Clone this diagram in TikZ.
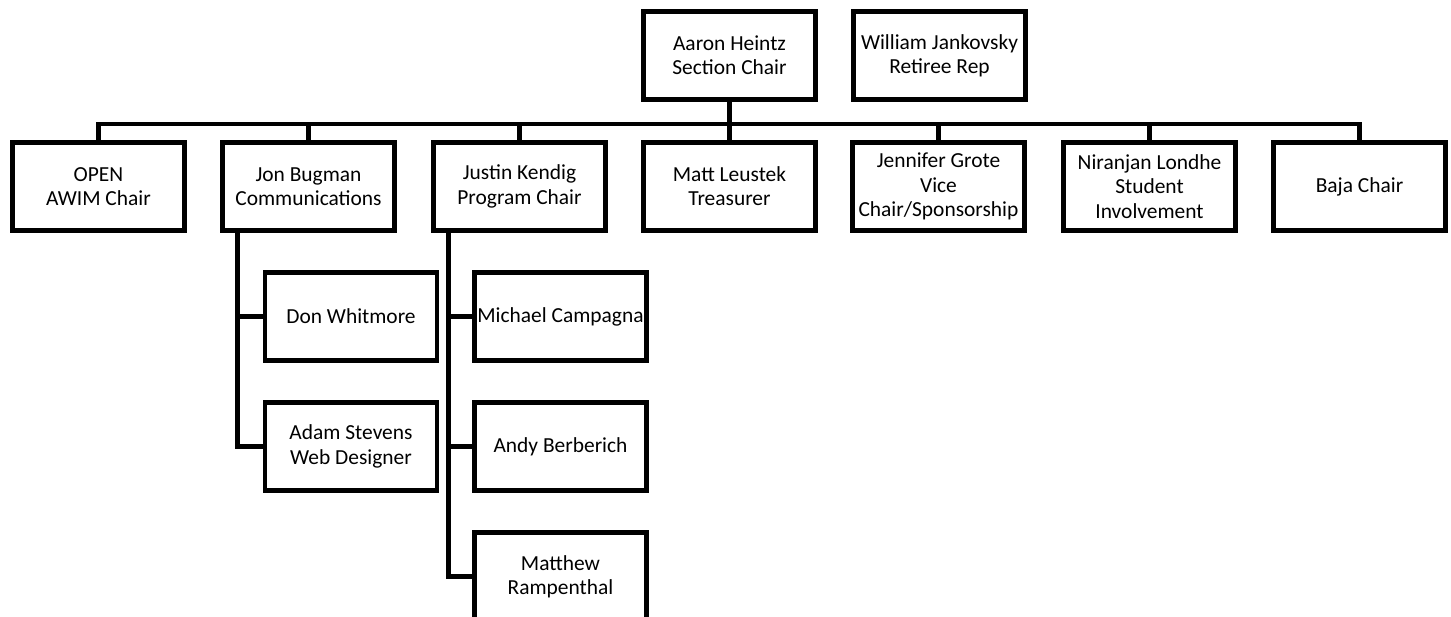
\documentclass[tikz,border=0pt]{standalone}
\usepackage{fontspec}
\setmainfont{Carlito}
\usetikzlibrary{positioning}

\begin{document}
\begin{tikzpicture}[
  x=0.02cm, y=-0.02cm,
  post/.style={
    rectangle, draw=black, fill=white, line width=2.8pt,
    minimum width=3.44cm, minimum height=1.76cm, inner sep=1pt,
    font=\fontsize{12.2}{13.8}\selectfont, align=center
  },
  link/.style={draw=black, line width=2.8pt},
]

\useasboundingbox (0,0) rectangle (1451,617);
\clip (0,0) rectangle (1451,617);

\def\colA{98.5}
\def\colB{308.5}
\def\colC{519.5}
\def\colD{729.5}
\def\colE{938.5}
\def\colF{1149.5}
\def\colG{1359.5}
\def\colSa{351}
\def\colSb{560.5}

\def\rowT{55.5}
\def\rowA{186.5}
\def\rowB{316.5}
\def\rowC{446.5}
\def\rowD{576.5}

% top
\node[post] (aaron)   at (\colD, \rowT)  {Aaron Heintz\\Section Chair};
\node[post] (william) at (939.5, \rowT)  {William Jankovsky\\Retiree Rep};

% committee
\node[post] (open)     at (\colA, \rowA) {OPEN\\AWIM Chair};
\node[post] (jon)      at (\colB, \rowA) {Jon Bugman\\Communications};
\node[post] (justin)   at (\colC, \rowA) {Justin Kendig\\Program Chair};
\node[post] (matt)     at (\colD, \rowA) {Matt Leustek\\Treasurer};
\node[post] (jennifer) at (\colE, \rowA) {Jennifer Grote\\Vice\\Chair/Sponsorship};
\node[post] (niranjan) at (\colF, \rowA) {Niranjan Londhe\\Student\\Involvement};
\node[post] (baja)     at (\colG, \rowA) {Baja Chair};

% helpers
\node[post] (don)      at (\colSa, \rowB) {Don Whitmore};
\node[post] (adam)     at (\colSa, \rowC) {Adam Stevens\\Web Designer};
\node[post] (michael)  at (\colSb, \rowB) {Michael Campagna};
\node[post] (andy)     at (\colSb, \rowC) {Andy Berberich};
\node[post] (matthew)  at (\colSb, \rowD) {Matthew\\Rampenthal};

% bus
\coordinate (bus) at (0, 124);
\draw[link] (open.north) |- (bus -| baja.north) -- (baja.north);
\foreach \n in {jon, justin, jennifer, niranjan}
  \draw[link] (\n.north) -- (\n.north |- bus);
\draw[link] (aaron.south) -- (matt.north);

% Jon's branch
\coordinate (jonT) at ([xshift=0.35cm]jon.south west);
\draw[link] (jonT) |- (adam.west);
\draw[link] (don.west -| jonT) -- (don.west);

% Justin's branch
\coordinate (justinT) at ([xshift=0.35cm]justin.south west);
\draw[link] (justinT) |- (matthew.west);
\draw[link] (michael.west -| justinT) -- (michael.west);
\draw[link] (andy.west -| justinT) -- (andy.west);

\end{tikzpicture}
\end{document}
